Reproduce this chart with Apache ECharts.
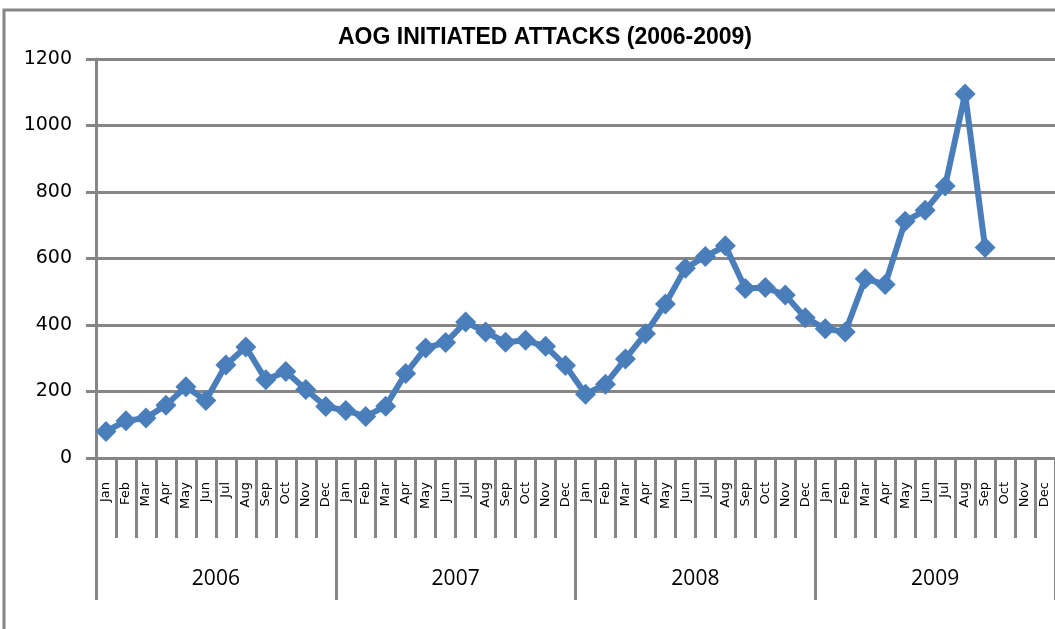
<!DOCTYPE html>
<html>
<head>
<meta charset="utf-8">
<title>AOG Initiated Attacks</title>
<script src="https://cdn.jsdelivr.net/npm/echarts@6/dist/echarts.min.js"></script>
<style>
  html, body { margin: 0; padding: 0; background: #fff; }
  #chart { width: 1055px; height: 629px; }
</style>
</head>
<body>
<div id="chart"></div>
<script>
// monthly attacks
var years = ['2006', '2007', '2008', '2009']
var months = ['Jan', 'Feb', 'Mar', 'Apr', 'May', 'Jun', 'Jul', 'Aug', 'Sep', 'Oct', 'Nov', 'Dec']
var attacks2006 = [80, 112, 120, 159, 214, 173, 280, 334, 235, 260, 206, 155]
var attacks2007 = [143, 125, 156, 254, 331, 347, 409, 379, 348, 354, 336, 278]
var attacks2008 = [192, 222, 298, 374, 463, 571, 606, 638, 510, 513, 490, 422]
var attacks2009 = [389, 379, 539, 522, 712, 745, 818, 1095, 633]
var yTicks = [0, 200, 400, 600, 800, 1000, 1200]

var monthLabels = []
years.forEach(function () {
  monthLabels = monthLabels.concat(months)
})
var seriesData = attacks2006.concat(attacks2007, attacks2008, attacks2009)

var gray = '#868686'
var chart = echarts.init(document.getElementById('chart'))

chart.setOption({
  animation: false,
  title: {
    text: 'AOG INITIATED ATTACKS (2006-2009)',
    left: 540,
    textAlign: 'center',
    top: 21,
    textStyle: {
      fontFamily: 'Liberation Sans',
      fontWeight: 'bold',
      fontSize: 23,
      color: '#000'
    }
  },
  graphic: [
    {
      type: 'rect',
      silent: true,
      shape: { x: 4, y: 10, width: 1100, height: 700 },
      style: { fill: null, stroke: gray, lineWidth: 3 }
    }
  ],
  grid: {
    left: 96,
    right: -1,
    top: 59,
    bottom: 171
  },
  xAxis: [
    {
      type: 'category',
      data: monthLabels,
      boundaryGap: true,
      axisLine: { show: true, lineStyle: { color: gray, width: 3 } },
      axisTick: {
        show: true,
        interval: 0,
        length: 80,
        lineStyle: { color: gray, width: 3 }
      },
      axisLabel: {
        interval: 0,
        rotate: 90,
        margin: 24,
        fontFamily: 'DejaVu Sans',
        fontSize: 13,
        color: '#000'
      },
      splitLine: { show: false }
    },
    {
      type: 'category',
      data: years,
      position: 'bottom',
      boundaryGap: true,
      axisLine: { show: false },
      axisTick: {
        show: true,
        interval: 0,
        length: 142,
        lineStyle: { color: gray, width: 3 }
      },
      axisLabel: {
        interval: 0,
        margin: 111,
        fontFamily: 'Open Sans',
        fontSize: 21,
        color: '#000'
      },
      splitLine: { show: false }
    }
  ],
  yAxis: {
    type: 'value',
    min: yTicks[0],
    max: yTicks[yTicks.length - 1],
    interval: 200,
    axisLine: { show: true, lineStyle: { color: gray, width: 3 } },
    axisTick: { show: true, length: 10, lineStyle: { color: gray, width: 3 } },
    axisLabel: {
      margin: 24,
      fontFamily: 'DejaVu Sans',
      fontSize: 19,
      color: '#000',
      formatter: function (v) { return String(v) }
    },
    splitLine: { lineStyle: { color: gray, width: 3 } }
  },
  series: [
    {
      name: 'AOG Initiated Attacks',
      type: 'line',
      xAxisIndex: 0,
      data: seriesData,
      symbol: 'diamond',
      symbolSize: 21,
      lineStyle: { color: '#4A7EBB', width: 6 },
      itemStyle: { color: '#4A7EBB' }
    }
  ]
})
</script>
</body>
</html>
